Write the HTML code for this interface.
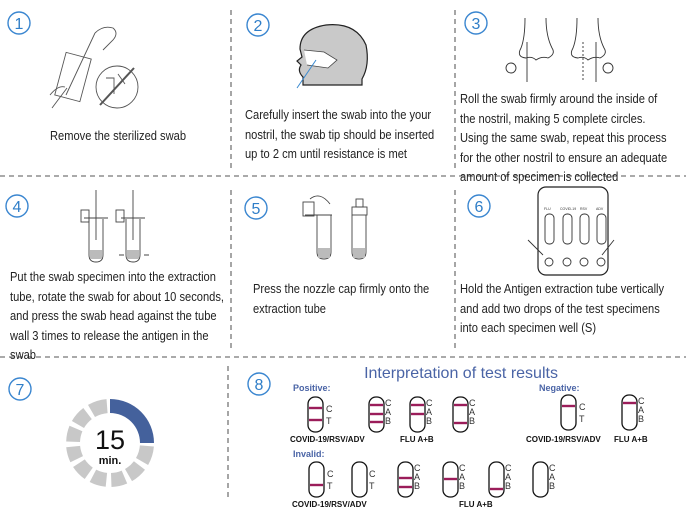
<!DOCTYPE html>
<html><head><meta charset="utf-8"><style>
body{margin:0;width:686px;height:513px;background:#fff;position:relative;overflow:hidden;font-family:"Liberation Sans",sans-serif;}
.t{position:absolute;font-size:12.5px;line-height:19.5px;color:#222;white-space:nowrap;transform:scaleX(0.89);transform-origin:0 0;}
svg{position:absolute;left:0;top:0}
</style></head><body>
<svg width="686" height="513" viewBox="0 0 686 513" font-family="Liberation Sans, sans-serif">
<g stroke="#777" stroke-width="1.3" stroke-dasharray="5,4" fill="none">
<line x1="0" y1="176" x2="686" y2="176"/>
<line x1="0" y1="357" x2="686" y2="357"/>
<line x1="231" y1="10" x2="231" y2="172"/>
<line x1="455" y1="10" x2="455" y2="172"/>
<line x1="231" y1="190" x2="231" y2="352"/>
<line x1="455" y1="190" x2="455" y2="352"/>
<line x1="228" y1="366" x2="228" y2="500"/>
</g>
<g fill="none" stroke="#3a86d0" stroke-width="1.4">
<circle cx="19" cy="23" r="11"/><circle cx="258" cy="25" r="11"/><circle cx="476" cy="23" r="11"/>
<circle cx="17" cy="206" r="11"/><circle cx="256" cy="208" r="11"/><circle cx="479" cy="206" r="11"/>
<circle cx="20" cy="389" r="11"/><circle cx="259" cy="384" r="11"/>
</g>
<g fill="#2f7ec8" font-size="16" text-anchor="middle">
<text x="19" y="29">1</text><text x="258" y="31">2</text><text x="476" y="29">3</text>
<text x="17" y="212">4</text><text x="256" y="214">5</text><text x="479" y="212">6</text>
<text x="20" y="395">7</text><text x="259" y="390">8</text>
</g>
<!-- step1 -->
<g stroke="#555" stroke-width="0.9" fill="none">
<rect x="60" y="55" width="26" height="44" transform="rotate(15 73 77)"/>
<line x1="66" y1="95" x2="95" y2="33"/>
<path d="M95 33 q8 -8 18 -5 q6 5 0 12 l-10 10"/>
<path d="M50 95 q8 -10 15 -8 M52 108 l15 -20"/>
<circle cx="117" cy="87" r="21"/>
<line x1="100" y1="105" x2="134" y2="68" stroke-width="2"/>
<path d="M106 78 l8 0 l0 16 M118 74 l7 10"/>
</g>
<!-- step2 head -->
<path d="M303 85 l0 -8 q-6 -6 -2 -12 l-4 -4 l5 -4 l-2 -8 q0 -20 26 -24 q30 -3 40 20 q4 20 -4 34 l0 6 z" fill="#c9c9c9" stroke="#222" stroke-width="1.2"/>
<path d="M304 50 l20 2 l13 8 l-9 8 l-21 -3" fill="#fff" stroke="#444" stroke-width="0.8"/>
<line x1="297" y1="88" x2="316" y2="60" stroke="#3a8ad0" stroke-width="1"/>
<!-- step3 noses -->
<g stroke="#333" stroke-width="0.9" fill="none">
<path d="M525 18 q0 20 -4 30 q-5 9 5 10 q6 -2 10 2 q6 -4 12 -2 q8 -4 4 -10 q-6 -12 -6 -30"/>
<line x1="527" y1="42" x2="527" y2="82"/><circle cx="511" cy="68" r="5"/>
<path d="M577 18 q0 20 -4 30 q-5 9 5 10 q6 -2 10 2 q6 -4 12 -2 q8 -4 4 -10 q-6 -12 -6 -30"/>
<line x1="596" y1="42" x2="596" y2="82"/><line x1="583" y1="42" x2="583" y2="82" stroke-dasharray="2,2"/><circle cx="608" cy="68" r="5"/>
</g>
<!-- step4 tubes -->
<g stroke="#444" stroke-width="0.9" fill="none">
<line x1="96" y1="190" x2="96" y2="240"/><line x1="133" y1="190" x2="133" y2="240"/>
<path d="M89 219 l0 36 q0 7 7 7 q7 0 7 -7 l0 -36"/><path d="M126 219 l0 36 q0 7 7 7 q7 0 7 -7 l0 -36"/>
<line x1="84" y1="218" x2="108" y2="218"/><line x1="121" y1="218" x2="145" y2="218"/>
<rect x="81" y="210" width="8" height="12"/><rect x="116" y="210" width="8" height="12"/>
<path d="M119 255 l5 0 M149 255 l-5 0"/>
</g>
<rect x="90" y="250" width="12" height="9" fill="#bbb"/><rect x="127" y="250" width="12" height="9" fill="#bbb"/>
<!-- step5 -->
<g stroke="#444" stroke-width="0.9" fill="none">
<path d="M317 215 l0 37 q0 7 7 7 q7 0 7 -7 l0 -37"/><path d="M352 215 l0 37 q0 7 7 7 q7 0 7 -7 l0 -37"/>
<line x1="305" y1="215" x2="332" y2="215"/><rect x="303" y="202" width="11" height="14"/>
<rect x="352" y="207" width="15" height="8"/><rect x="356" y="199" width="7" height="8"/>
<path d="M310 199 q10 -8 20 5"/>
</g>
<rect x="318" y="248" width="12" height="10" fill="#bbb"/><rect x="353" y="248" width="12" height="10" fill="#bbb"/>
<!-- step6 card -->
<rect x="538" y="187" width="70" height="88" rx="8" fill="#fff" stroke="#222" stroke-width="1.2"/>
<g stroke="#333" stroke-width="0.9" fill="none">
<rect x="545" y="214" width="9" height="30" rx="4"/><rect x="563" y="214" width="9" height="30" rx="4"/>
<rect x="580" y="214" width="9" height="30" rx="4"/><rect x="597" y="214" width="9" height="30" rx="4"/>
<circle cx="549" cy="262" r="4"/><circle cx="567" cy="262" r="4"/><circle cx="584" cy="262" r="4"/><circle cx="601" cy="262" r="4"/>
<path d="M528 240 l15 15 M614 240 l-12 15"/>
</g>
<g font-size="3.5" fill="#333"><text x="544" y="210">FLU</text><text x="560" y="210">COVID-19</text><text x="580" y="210">RSV</text><text x="596" y="210">ADV</text></g>
<!-- timer -->
<g transform="translate(110 443)">
<path d="M0 -44 A44 44 0 0 1 44 0 L30 0 A30 30 0 0 0 0 -30 Z" fill="#44619c"/>
<g fill="#c8c8c8">
<path d="M43.9 3.5 A44 44 0 0 1 38.1 22 L26 15 A30 30 0 0 0 29.9 2.4 Z"/>
<path d="M35 26.7 A44 44 0 0 1 22 38.1 L15 26 A30 30 0 0 0 23.9 18.2 Z"/>
<path d="M17.2 40.5 A44 44 0 0 1 1.5 44 L1 30 A30 30 0 0 0 11.7 27.6 Z"/>
<path d="M-4.3 43.8 A44 44 0 0 1 -20.3 39 L-13.8 26.6 A30 30 0 0 0 -2.9 29.9 Z"/>
<path d="M-25.3 36 A44 44 0 0 1 -36.9 24 L-25.2 16.4 A30 30 0 0 0 -17.2 24.6 Z"/>
<path d="M-39.6 19.2 A44 44 0 0 1 -43.8 4.3 L-29.9 2.9 A30 30 0 0 0 -27 13.1 Z"/>
<path d="M-43.8 -1.5 A44 44 0 0 1 -40.5 -17.2 L-27.6 -11.7 A30 30 0 0 0 -30 -1 Z"/>
<path d="M-38.1 -22 A44 44 0 0 1 -26.7 -35 L-18.2 -23.9 A30 30 0 0 0 -26 -15 Z"/>
<path d="M-22 -38.1 A44 44 0 0 1 -3.5 -43.9 L-2.4 -29.9 A30 30 0 0 0 -15 -26 Z"/>
</g>
</g>
<text x="110" y="449" font-size="27" text-anchor="middle" fill="#111">15</text>
<text x="110" y="464" font-size="11" font-weight="bold" text-anchor="middle" fill="#111">min.</text>
<!-- interpretation -->
<text x="461" y="378" font-size="16" text-anchor="middle" fill="#4a64a6">Interpretation of test results</text>
<g font-size="9" font-weight="bold" fill="#4a64a6"><text x="293" y="391">Positive:</text><text x="539" y="391">Negative:</text><text x="293" y="457">Invalid:</text></g>
<g fill="none" stroke="#111" stroke-width="1.3">
<rect x="308" y="397" width="15" height="35" rx="7"/><rect x="369" y="397" width="15" height="35" rx="7"/>
<rect x="410" y="397" width="15" height="35" rx="7"/><rect x="453" y="397" width="15" height="35" rx="7"/>
<rect x="561" y="395" width="15" height="35" rx="7"/><rect x="622" y="395" width="15" height="35" rx="7"/>
<rect x="309" y="462" width="15" height="35" rx="7"/><rect x="352" y="462" width="15" height="35" rx="7"/>
<rect x="398" y="462" width="15" height="35" rx="7"/><rect x="443" y="462" width="15" height="35" rx="7"/>
<rect x="489" y="462" width="15" height="35" rx="7"/><rect x="533" y="462" width="15" height="35" rx="7"/>
</g>
<g stroke="#9b1d5a" stroke-width="2.4">
<line x1="309" y1="408" x2="322" y2="408"/><line x1="309" y1="420" x2="322" y2="420"/>
<line x1="370" y1="405" x2="383" y2="405"/><line x1="370" y1="414" x2="383" y2="414"/><line x1="370" y1="422" x2="383" y2="422"/>
<line x1="411" y1="405" x2="424" y2="405"/><line x1="411" y1="414" x2="424" y2="414"/>
<line x1="454" y1="405" x2="467" y2="405"/><line x1="454" y1="423" x2="467" y2="423"/>
<line x1="562" y1="406" x2="575" y2="406"/><line x1="623" y1="403" x2="636" y2="403"/>
<line x1="310" y1="485" x2="323" y2="485"/>
<line x1="399" y1="478" x2="412" y2="478"/><line x1="399" y1="487" x2="412" y2="487"/>
<line x1="444" y1="479" x2="457" y2="479"/><line x1="490" y1="489" x2="503" y2="489"/>
</g>
<g font-size="9" fill="#333">
<text x="326" y="412">C</text><text x="326" y="424">T</text>
<text x="385" y="406">C</text><text x="385" y="415">A</text><text x="385" y="424">B</text>
<text x="426" y="406">C</text><text x="426" y="415">A</text><text x="426" y="424">B</text>
<text x="469" y="406">C</text><text x="469" y="415">A</text><text x="469" y="424">B</text>
<text x="579" y="410">C</text><text x="579" y="422">T</text>
<text x="638" y="404">C</text><text x="638" y="413">A</text><text x="638" y="422">B</text>
<text x="327" y="477">C</text><text x="327" y="489">T</text>
<text x="369" y="477">C</text><text x="369" y="489">T</text>
<text x="414" y="471">C</text><text x="414" y="480">A</text><text x="414" y="489">B</text>
<text x="459" y="471">C</text><text x="459" y="480">A</text><text x="459" y="489">B</text>
<text x="505" y="471">C</text><text x="505" y="480">A</text><text x="505" y="489">B</text>
<text x="549" y="471">C</text><text x="549" y="480">A</text><text x="549" y="489">B</text>
</g>
<g font-size="8" font-weight="bold" fill="#111">
<text x="290" y="442">COVID-19/RSV/ADV</text><text x="400" y="442">FLU A+B</text>
<text x="526" y="442">COVID-19/RSV/ADV</text><text x="614" y="442">FLU A+B</text>
<text x="292" y="507">COVID-19/RSV/ADV</text><text x="459" y="507">FLU A+B</text>
</g>
</svg>
<div class="t" style="left:50px;top:127px">Remove the sterilized swab</div>
<div class="t" style="left:245px;top:106px">Carefully insert the swab into the your<br>nostril, the swab tip should be inserted<br>up to 2 cm until resistance is met</div>
<div class="t" style="left:460px;top:90px">Roll the swab firmly around the inside of<br>the nostril, making 5 complete circles.<br>Using the same swab, repeat this process<br>for the other nostril to ensure an adequate<br>amount of specimen is collected</div>
<div class="t" style="left:10px;top:268px">Put the swab specimen into the extraction<br>tube, rotate the swab for about 10 seconds,<br>and press the swab head against the tube<br>wall 3 times to release the antigen in the<br>swab</div>
<div class="t" style="left:253px;top:280px">Press the nozzle cap firmly onto the<br>extraction tube</div>
<div class="t" style="left:460px;top:280px">Hold the Antigen extraction tube vertically<br>and add two drops of the test specimens<br>into each specimen well (S)</div>
</body></html>
